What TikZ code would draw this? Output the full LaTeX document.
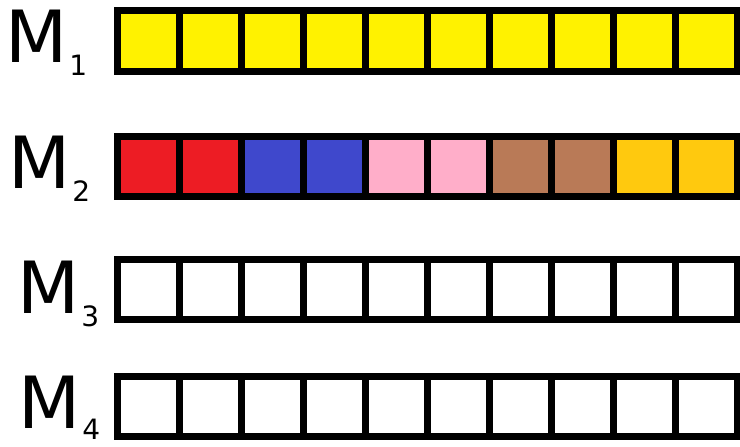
\documentclass[tikz,border=0pt]{standalone}
\usepackage{fontspec}
\setmainfont{DejaVu Sans}
\definecolor{pyellow}{HTML}{FFF200}
\definecolor{pred}{HTML}{ED1C24}
\definecolor{pblue}{HTML}{3F48CC}
\definecolor{ppink}{HTML}{FFAEC9}
\definecolor{pbrown}{HTML}{B97A57}
\definecolor{pgold}{HTML}{FFC90E}
\tikzset{
  cell/.style={draw=black, line width=7pt},
  lbl/.style={anchor=base west, inner sep=0pt, font=\fontsize{72}{72}\selectfont}
}
\newcommand{\msub}[1]{\hspace{2pt}\raisebox{-13pt}{\fontsize{28}{28}\selectfont #1}}
\begin{document}
\begin{tikzpicture}[x=1pt, y=-1pt]
  \useasboundingbox (0,0) rectangle (740,447);
  % labels
  \node[lbl] (m1) at (5,63) {M\msub{1}};
  \node[lbl] (m2) at (8,188) {M\msub{2}};
  \node[lbl] (m3) at (17,313) {M\msub{3}};
  \node[lbl] (m4) at (18,428) {M\hspace{2pt}\raisebox{-11pt}{\fontsize{28}{28}\selectfont 4}};
  % memory rows
  \foreach \c [count=\i from 0] in {pyellow,pyellow,pyellow,pyellow,pyellow,pyellow,pyellow,pyellow,pyellow,pyellow}
    \filldraw[cell, fill=\c] ({117+62*\i},10) rectangle ++(62,61);
  \foreach \c [count=\i from 0] in {pred,pred,pblue,pblue,ppink,ppink,pbrown,pbrown,pgold,pgold}
    \filldraw[cell, fill=\c] ({117+62*\i},136) rectangle ++(62,60);
  \foreach \i in {0,...,9} {
    \draw[cell] ({117+62*\i},259) rectangle ++(62,60);
    \draw[cell] ({117+62*\i},376) rectangle ++(62,60);
  }
\end{tikzpicture}
\end{document}
